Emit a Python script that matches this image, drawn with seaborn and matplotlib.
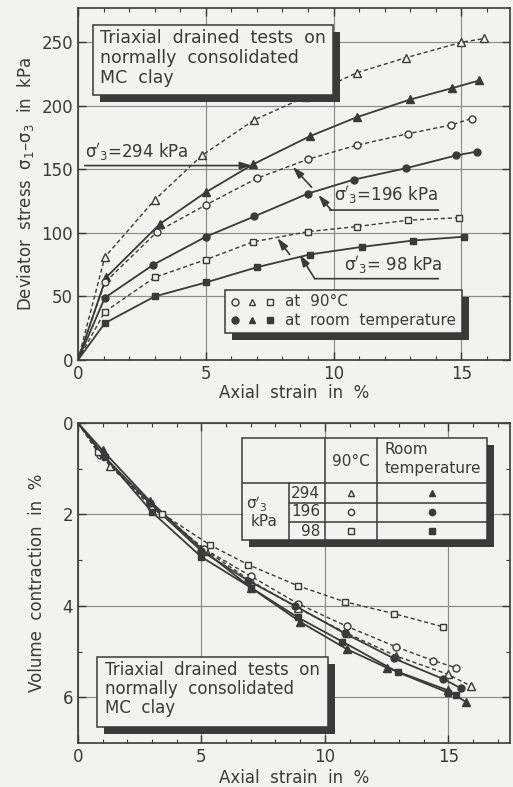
import matplotlib
matplotlib.use("Agg")
import matplotlib.pyplot as plt
from matplotlib.patches import Rectangle
import seaborn as sns

# ---- deviator stress vs axial strain (top panel) ----
top_x_294_hot = [0, 1.05, 3.0, 4.85, 6.9, 8.9, 10.9, 12.85, 15.0, 15.9]
top_y_294_hot = [0, 81, 126, 161, 189, 207, 226, 238, 250, 253]
top_x_294_room = [0, 1.1, 3.2, 5.0, 6.85, 9.06, 10.9, 13.0, 14.65, 15.7]
top_y_294_room = [0, 65, 107, 132, 154, 176, 191, 205, 214, 220]
top_x_196_hot = [0, 1.05, 3.1, 5.0, 7.0, 9.0, 10.9, 12.9, 14.6, 15.4]
top_y_196_hot = [0, 61, 101, 122, 143, 158, 169, 178, 185, 190]
top_x_196_room = [0, 1.05, 2.95, 5.0, 6.9, 9.0, 10.8, 12.85, 14.8, 15.6]
top_y_196_room = [0, 49, 75, 97, 113, 131, 142, 151, 161, 164]
top_x_98_hot = [0, 1.05, 3.0, 5.0, 6.85, 9.0, 10.9, 12.9, 14.9]
top_y_98_hot = [0, 38, 65, 79, 93, 101, 105, 110, 112]
top_x_98_room = [0, 1.05, 3.0, 5.0, 7.0, 9.06, 11.1, 13.1, 15.1]
top_y_98_room = [0, 29, 50, 61, 73, 83, 89, 94, 97]

# ---- volume contraction vs axial strain (bottom panel) ----
bot_x_294_hot = [0, 1.3, 3.0, 5.2, 7.0, 8.9, 10.9, 12.9, 15.0, 15.9]
bot_y_294_hot = [0, 0.95, 1.8, 2.8, 3.45, 4.05, 4.6, 5.1, 5.5, 5.75]
bot_x_294_room = [0, 1.0, 2.9, 5.0, 7.0, 9.0, 10.9, 12.5, 15.0, 15.7]
bot_y_294_room = [0, 0.6, 1.7, 2.75, 3.6, 4.35, 4.95, 5.35, 5.85, 6.1]
bot_x_196_hot = [0, 0.9, 3.0, 5.1, 7.0, 8.9, 10.9, 12.9, 14.4, 15.3]
bot_y_196_hot = [0, 0.7, 1.85, 2.75, 3.35, 3.95, 4.45, 4.9, 5.2, 5.35]
bot_x_196_room = [0, 1.0, 2.9, 5.0, 6.9, 8.8, 10.8, 12.8, 14.8, 15.5]
bot_y_196_room = [0, 0.7, 1.75, 2.8, 3.45, 4.0, 4.6, 5.15, 5.6, 5.8]
bot_x_98_hot = [0, 0.8, 3.4, 5.35, 6.9, 8.9, 10.8, 12.8, 14.8]
bot_y_98_hot = [0, 0.63, 1.98, 2.67, 3.1, 3.56, 3.91, 4.17, 4.46]
bot_x_98_room = [0, 1.1, 3.0, 5.0, 7.0, 8.9, 10.7, 12.95, 15.0, 15.3]
bot_y_98_room = [0, 0.75, 1.95, 2.93, 3.6, 4.25, 4.78, 5.45, 5.9, 5.95]

pressures = ["294", "196", "98"]
markers = {"294": "^", "196": "o", "98": "s"}

INK = "#3a3a3a"
BG = "#f2f2f0"
W, H = 513, 787
SIG3 = r"$\mathrm{\sigma}'_3$"

sns.set_style("ticks")
plt.rcParams["font.family"] = ["DejaVu Sans"]
plt.rcParams["text.color"] = INK
plt.rcParams["axes.labelcolor"] = INK

fig = plt.figure(figsize=(W / 100, H / 100), dpi=100, facecolor=BG)


def fig_rect(l, t, r, b):
    # pixel box (from top-left) -> figure fraction
    return [l / W, 1 - b / H, (r - l) / W, (b - t) / H]


def shadow_box(l, t, r, b, off=7):
    bx = fig.add_axes(fig_rect(l, t, r, b))
    bx.set_xlim(l, r)
    bx.set_ylim(b, t)
    bx.axis("off")
    bx.add_patch(Rectangle((l + off, t + off), r - l, b - t, fc=INK, ec="none",
                           clip_on=False, zorder=0))
    bx.add_patch(Rectangle((l, t), r - l, b - t, fc=BG, ec=INK, lw=1.1,
                           clip_on=False, zorder=1))
    return bx


def draw_series(ax, x, y, p, hot):
    sns.lineplot(x=x, y=y, ax=ax, color=INK, marker=markers[p],
                 markersize=5 if markers[p] != "^" else 5.5,
                 markevery=list(range(1, len(x))),
                 mfc=BG if hot else INK, mec=INK, mew=1.0,
                 linestyle=(0, (3, 2)) if hot else "-",
                 lw=1.0 if hot else 1.3, zorder=3)


def style_axes(ax):
    ax.set_facecolor(BG)
    for s in ax.spines.values():
        s.set_color(INK)
        s.set_linewidth(1.2)
    ax.tick_params(which="both", direction="in", top=True, right=True,
                   colors=INK, labelsize=12)
    ax.tick_params(which="major", length=6, width=1.0)
    ax.tick_params(which="minor", length=3, width=0.8)
    ax.grid(True, which="major", color="#8c8c8c", lw=0.85)
    ax.set_axisbelow(True)


# ---------------- top panel ----------------
ax1 = fig.add_axes(fig_rect(78, 8, 510, 360))
style_axes(ax1)
top_series = [
    (top_x_294_hot, top_y_294_hot, "294", True),
    (top_x_294_room, top_y_294_room, "294", False),
    (top_x_196_hot, top_y_196_hot, "196", True),
    (top_x_196_room, top_y_196_room, "196", False),
    (top_x_98_hot, top_y_98_hot, "98", True),
    (top_x_98_room, top_y_98_room, "98", False),
]
for x, y, p, hot in top_series:
    draw_series(ax1, x, y, p, hot)
ax1.set_xlim(0, 16.9)
ax1.set_ylim(0, 277)
ax1.set_xticks([0, 5, 10, 15])
ax1.set_xticks(range(1, 17), minor=True)
ax1.set_yticks([0, 50, 100, 150, 200, 250])
ax1.set_xlabel("Axial  strain  in  %", fontsize=12, labelpad=1)
ax1.set_ylabel("Deviator  stress  σ$_1$–σ$_3$  in  kPa", fontsize=12, labelpad=4)

arrow = dict(arrowstyle="-|>,head_length=0.7,head_width=0.22", color=INK,
             lw=1.2, shrinkA=0, shrinkB=0)
plain = dict(arrowstyle="-", color=INK, lw=1.2, shrinkA=0, shrinkB=0)
ax1.text(0.27, 164, SIG3 + "=294 kPa", fontsize=12, va="center")
ax1.annotate("", xy=(6.8, 153), xytext=(0.27, 153), arrowprops=arrow)
ax1.text(10.0, 130, SIG3 + "=196 kPa", fontsize=12, va="center")
ax1.annotate("", xy=(14.1, 118), xytext=(9.85, 118), arrowprops=plain)
ax1.annotate("", xy=(9.4, 130), xytext=(9.9, 118), arrowprops=arrow)
ax1.annotate("", xy=(8.4, 152), xytext=(9.14, 136), arrowprops=arrow)
ax1.text(10.4, 75, SIG3 + "= 98 kPa", fontsize=12, va="center")
ax1.annotate("", xy=(14.1, 64), xytext=(9.26, 64), arrowprops=plain)
ax1.annotate("", xy=(8.67, 83), xytext=(9.26, 64), arrowprops=arrow)
ax1.annotate("", xy=(7.8, 96), xytext=(8.28, 83), arrowprops=arrow)

note1 = shadow_box(93, 25, 333, 95)
for i, line in enumerate(["Triaxial  drained  tests  on", "normally  consolidated", "MC  clay"]):
    note1.text(100, 38 + 20 * i, line, fontsize=12.5, va="center", zorder=3)

lg = shadow_box(225, 290, 462, 333)
for j, p in enumerate(["196", "294", "98"]):
    lg.plot(235 + 17.5 * j, 302, marker=markers[p], ms=5, mfc=BG, mec=INK, zorder=3)
    lg.plot(235 + 17.5 * j, 320, marker=markers[p], ms=5, mfc=INK, mec=INK, zorder=3)
lg.text(285, 302, "at  90°C", fontsize=11, va="center", zorder=3)
lg.text(285, 320, "at  room  temperature", fontsize=11, va="center", zorder=3)

# ---------------- bottom panel ----------------
ax2 = fig.add_axes(fig_rect(78, 423, 510, 743))
style_axes(ax2)
bot_series = [
    (bot_x_294_hot, bot_y_294_hot, "294", True),
    (bot_x_294_room, bot_y_294_room, "294", False),
    (bot_x_196_hot, bot_y_196_hot, "196", True),
    (bot_x_196_room, bot_y_196_room, "196", False),
    (bot_x_98_hot, bot_y_98_hot, "98", True),
    (bot_x_98_room, bot_y_98_room, "98", False),
]
for x, y, p, hot in bot_series:
    draw_series(ax2, x, y, p, hot)
ax2.set_xlim(0, 17.5)
ax2.set_ylim(7, 0)
ax2.set_xticks([0, 5, 10, 15])
ax2.set_xticks(range(1, 18), minor=True)
ax2.set_yticks([0, 2, 4, 6])
ax2.set_yticks([1, 3, 5], minor=True)
ax2.set_xlabel("Axial  strain  in  %", fontsize=12, labelpad=2)
ax2.set_ylabel("Volume  contraction  in  %", fontsize=12, labelpad=12)

note2 = shadow_box(97, 657, 328, 727)
for i, line in enumerate(["Triaxial  drained  tests  on", "normally  consolidated", "MC  clay"]):
    note2.text(105, 670 + 19 * i, line, fontsize=12, va="center", zorder=3)

tb = shadow_box(242, 438, 487, 540)
for xs, ys in [([242, 487], [483, 483]), ([289, 487], [503, 503]), ([289, 487], [522, 522]),
               ([289, 289], [483, 540]), ([325, 325], [438, 540]), ([377, 377], [438, 540])]:
    tb.plot(xs, ys, color=INK, lw=1.1, zorder=2)
tb.text(351, 461, "90°C", fontsize=11, ha="center", va="center", zorder=3)
tb.text(385, 449, "Room", fontsize=11, va="center", zorder=3)
tb.text(385, 468, "temperature", fontsize=11, va="center", zorder=3)
tb.text(246, 504, SIG3, fontsize=11, va="center", zorder=3)
tb.text(251, 521, "kPa", fontsize=11, va="center", zorder=3)
for k, p in enumerate(pressures):
    yy = 493 + 19 * k
    tb.text(320, yy, p, fontsize=11, ha="right", va="center", zorder=3)
    tb.plot(351, yy, marker=markers[p], ms=4.5, mfc=BG, mec=INK, zorder=3)
    tb.plot(432, yy, marker=markers[p], ms=4.5, mfc=INK, mec=INK, zorder=3)

fig.savefig("out.png", dpi=100, facecolor=BG)
